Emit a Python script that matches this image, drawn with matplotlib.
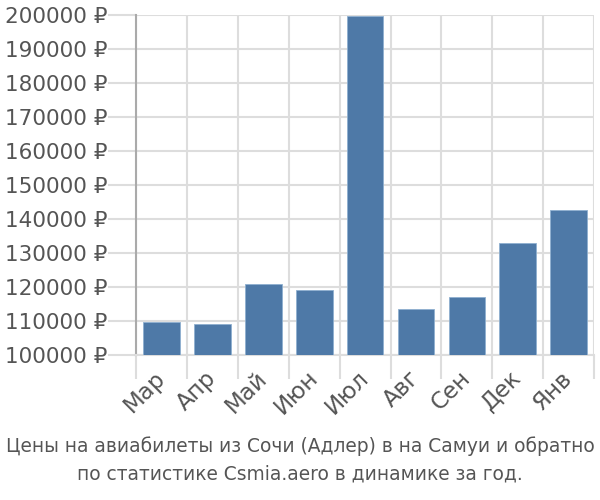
import numpy as np
import matplotlib.pyplot as plt

# --- DATA ---
months = ["Мар", "Апр", "Май", "Июн", "Июл", "Авг", "Сен", "Дек", "Янв"]
prices = [109600, 109000, 120800, 119200, 199700, 113400, 117000, 132900, 142700]
yticks = list(range(100000, 200001, 10000))
caption = ("Цены на авиабилеты из Сочи (Адлер) в на Самуи и обратно\n"
           "по статистике Csmia.aero в динамике за год.")

plt.rcParams['font.family'] = ['DejaVu Sans']

fig = plt.figure(figsize=(6, 5), dpi=100)
ax = fig.add_axes([0.227, 0.29, 0.763, 0.68])

x = np.arange(len(months))
base = yticks[0]
ax.bar(x, [p - base for p in prices], bottom=base, width=0.72,
       color='#4e79a7', edgecolor='#8fb0d0', linewidth=0.6, zorder=3)

ax.set_xlim(-0.5, len(months) - 0.5)
ax.set_ylim(yticks[0], yticks[-1])

# gridlines at category boundaries, ticks hanging below
ax.set_xticks(np.arange(-0.5, len(months)), minor=True)
ax.set_xticks(x)
ax.set_xticklabels(months, rotation=45, ha='right', va='center',
                   rotation_mode='anchor', fontsize=16.5, color='#555555')
ax.tick_params(axis='x', which='major', length=0, pad=14)
ax.tick_params(axis='x', which='minor', length=17, color='#dddddd', width=1.5)
ax.grid(axis='x', which='minor', color='#dddddd', linewidth=1.5, zorder=0)

ax.set_yticks(yticks)
ax.set_yticklabels([f"{v} ₽" for v in yticks], fontsize=15.5, color='#555555')
ax.tick_params(axis='y', length=20, color='#dddddd', width=1.5, pad=1)
ax.grid(axis='y', color='#dddddd', linewidth=1.5, zorder=0)

for s in ['top', 'right']:
    ax.spines[s].set_visible(False)
ax.spines['bottom'].set_color('#dddddd')
ax.spines['bottom'].set_linewidth(1.5)
ax.spines['left'].set_color('#aaaaaa')
ax.spines['left'].set_linewidth(1.5)
ax.spines['left'].set_bounds(yticks[0], yticks[-1])

fig.text(0.5, 0.08, caption, ha='center', va='center', fontsize=13.4,
         color='#555555', linespacing=1.55)

fig.savefig("out.png", dpi=100)
